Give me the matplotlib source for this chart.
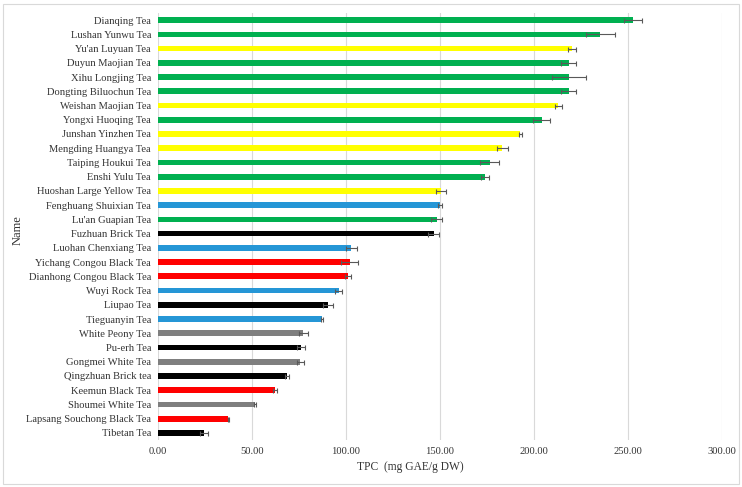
import matplotlib
matplotlib.use("Agg")
import matplotlib.pyplot as plt
from matplotlib.patches import Rectangle

names = ["Dianqing Tea", "Lushan Yunwu Tea", "Yu'an Luyuan Tea", "Duyun Maojian Tea",
         "Xihu Longjing Tea", "Dongting Biluochun Tea", "Weishan Maojian Tea",
         "Yongxi Huoqing Tea", "Junshan Yinzhen Tea", "Mengding Huangya Tea",
         "Taiping Houkui Tea", "Enshi Yulu Tea", "Huoshan Large Yellow Tea",
         "Fenghuang Shuixian Tea", "Lu'an Guapian Tea", "Fuzhuan Brick Tea",
         "Luohan Chenxiang Tea", "Yichang Congou Black Tea", "Dianhong Congou Black Tea",
         "Wuyi Rock Tea", "Liupao Tea", "Tieguanyin Tea", "White Peony Tea", "Pu-erh Tea",
         "Gongmei White Tea", "Qingzhuan Brick tea", "Keemun Black Tea",
         "Shoumei White Tea", "Lapsang Souchong Black Tea", "Tibetan Tea"]
tpc = [252.7, 235.3, 220.1, 218.5, 218.5, 218.4, 213.0, 204.1, 192.8, 183.2,
       176.5, 174.0, 150.6, 149.9, 148.3, 146.7, 102.8, 101.9, 101.2, 96.1,
       90.4, 87.2, 77.3, 76.0, 75.7, 68.6, 62.2, 51.7, 37.4, 24.6]
err = [5.0, 7.7, 2.0, 4.0, 9.0, 4.0, 2.0, 4.5, 1.0, 3.0,
       5.0, 2.0, 2.5, 1.0, 3.0, 3.0, 3.0, 4.4, 1.6, 2.0,
       2.8, 0.5, 2.5, 2.3, 1.8, 1.2, 1.0, 0.6, 0.3, 2.0]
tea_type = ["green", "green", "yellow", "green", "green", "green", "yellow",
            "green", "yellow", "yellow", "green", "green", "yellow",
            "oolong", "green", "dark", "oolong", "black", "black", "oolong",
            "dark", "oolong", "white", "dark", "white", "dark", "black",
            "white", "black", "dark"]
type_colors = {"green": "#00B050", "yellow": "#FFFF00", "oolong": "#2596D6",
               "dark": "#000000", "black": "#FF0000", "white": "#7F7F7F"}
xticks = [0, 50, 100, 150, 200, 250, 300]

plt.rcParams['font.family'] = ['Liberation Serif', 'DejaVu Serif']

fig = plt.figure(figsize=(7.42, 4.87), dpi=100)
fig.patches.append(Rectangle((0.004, 0.006), 0.992, 0.986, transform=fig.transFigure,
                             fill=False, edgecolor="#D9D9D9", linewidth=0.8))
ax = fig.add_axes([0.2129, 0.0965, 0.7601, 0.8768])

n = len(names)
ypos = list(range(n - 1, -1, -1))
colors = [type_colors[t] for t in tea_type]
ax.barh(ypos, tpc, height=0.4, color=colors, zorder=2)
ax.errorbar(tpc, ypos, xerr=err, fmt="none", ecolor="#595959", elinewidth=0.8,
            capsize=1.8, capthick=0.8, zorder=3)

ax.set_xlim(0, 300)
ax.set_ylim(-0.5, n - 0.5)
ax.set_xticks(xticks)
ax.set_xticklabels([f"{v:.2f}" for v in xticks], fontsize=7.6, color="#333333")
ax.set_yticks(ypos)
ax.set_yticklabels(names, fontsize=7.6, color="#333333")
ax.tick_params(axis="both", length=0)
ax.tick_params(axis="x", pad=5)
ax.tick_params(axis="y", pad=5)
for s in ax.spines.values():
    s.set_visible(False)
ax.grid(axis="x", color="#D9D9D9", linewidth=0.8, zorder=0)
ax.set_axisbelow(True)
fig.text(410 / 742, 1 - 467 / 487, "TPC  (mg GAE/g DW)", fontsize=8.3,
         color="#333333", ha="center", va="center")
fig.text(18 / 742, 1 - 230 / 487, "Name", fontsize=9, color="#333333",
         ha="center", va="center", rotation=90)

fig.savefig("out.png", dpi=100)
